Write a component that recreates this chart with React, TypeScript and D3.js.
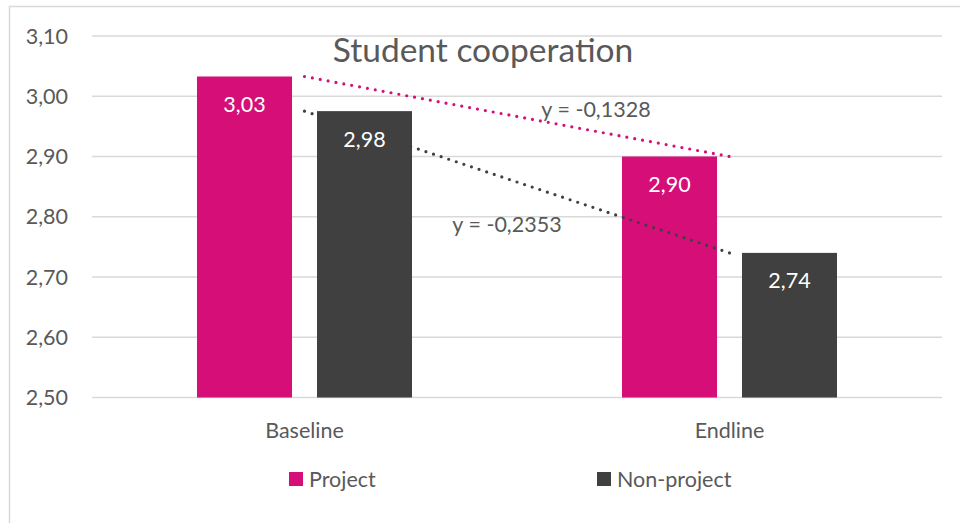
import React from 'react';
import * as d3 from 'd3';

// chart data
const categories = ['Baseline', 'Endline'];
const seriesNames = ['Project', 'Non-project'];
const projectValues = [3.0328, 2.9];
const nonProjectValues = [2.9753, 2.74];
const yTicks = [2.5, 2.6, 2.7, 2.8, 2.9, 3.0, 3.1];

const colors = ['#D50E78', '#404040'];
const textColor = '#595959';
const gridColor = '#D9D9D9';
const font = 'Lato, "Open Sans", sans-serif';
const fs = 21.5;

const fmt = (v: number, d: number) => v.toFixed(d).replace('.', ',');

export default function App() {
  const width = 960;
  const height = 523;
  const plotLeft = 92;
  const plotRight = 942;

  const y = d3.scaleLinear().domain([2.5, 3.1]).range([397.5, 36]);
  const x0 = d3.scaleBand<string>().domain(categories).range([plotLeft, plotRight]);
  const x1 = d3.scaleBand<string>().domain(seriesNames).range([0, 215]).paddingInner(0.2083);
  const groupOffset = (x0.bandwidth() - 215) / 2;

  const series = [projectValues, nonProjectValues];

  // linear trend through the category centres (x = 1, 2)
  const trend = series.map((vals) => {
    const xs = vals.map((_, i) => i + 1);
    const mx = d3.mean(xs)!;
    const my = d3.mean(vals)!;
    const slope = d3.sum(xs, (xv, i) => (xv - mx) * (vals[i] - my)) / d3.sum(xs, (xv) => (xv - mx) ** 2);
    const icpt = my - slope * mx;
    return { slope, icpt };
  });

  const line = d3.line<[number, number]>().x((d) => d[0]).y((d) => d[1]);

  const bars = (si: number) =>
    series[si].map((v, i) => {
      const bx = x0(categories[i])! + groupOffset + x1(seriesNames[si])!;
      return (
        <rect key={`b${si}-${i}`} x={bx} y={y(v)} width={x1.bandwidth()} height={y(2.5) - y(v)} fill={colors[si]} />
      );
    });

  const trendPaths = trend.map((t, si) => {
    const pts: [number, number][] = categories.map((c, i) => [
      x0(c)! + x0.bandwidth() / 2,
      y(t.icpt + t.slope * (i + 1)),
    ]);
    return (
      <path
        key={`t${si}`}
        d={line(pts)!}
        fill="none"
        stroke={colors[si]}
        strokeWidth={3.2}
        strokeLinecap="round"
        strokeDasharray="0 8"
      />
    );
  });

  const trendLabelPos = [
    { x: 596, y: 117 },
    { x: 507, y: 232 },
  ];

  return (
    <svg width={width} height={height} style={{ position: 'absolute', left: 0, top: 0, fontFamily: font }}>
      <rect x={0} y={0} width={width} height={height} fill="#fff" />
      <rect x={9.5} y={6.5} width={1000} height={1000} fill="none" stroke={gridColor} strokeWidth={1.5} />

      {yTicks.map((t) => (
        <g key={t}>
          <line x1={plotLeft} x2={plotRight} y1={y(t)} y2={y(t)} stroke={gridColor} strokeWidth={1.5} />
          <text x={68} y={y(t) + 7.5} textAnchor="end" fontSize={fs} fill={textColor}>
            {fmt(t, 2)}
          </text>
        </g>
      ))}

      <text x={483} y={62} textAnchor="middle" fontSize={33.5} fill={textColor}>
        Student cooperation
      </text>

      {bars(0)}
      {trendPaths}
      {bars(1)}

      {series.map((vals, si) =>
        vals.map((v, i) => {
          const bx = x0(categories[i])! + groupOffset + x1(seriesNames[si])! + x1.bandwidth() / 2;
          return (
            <text key={`l${si}-${i}`} x={bx} y={y(v) + 35.5} textAnchor="middle" fontSize={fs} fill="#fff">
              {fmt(v, 2)}
            </text>
          );
        })
      )}

      {trend.map((t, si) => (
        <text key={`tl${si}`} x={trendLabelPos[si].x} y={trendLabelPos[si].y} textAnchor="middle" fontSize={fs} fill={textColor}>
          {`y = ${fmt(t.slope, 4)}`}
        </text>
      ))}

      {categories.map((c) => (
        <text key={c} x={x0(c)! + x0.bandwidth() / 2} y={437.5} textAnchor="middle" fontSize={fs} fill={textColor}>
          {c}
        </text>
      ))}

      {seriesNames.map((s, si) => {
        const lx = [289, 597][si];
        return (
          <g key={s}>
            <rect x={lx} y={472} width={14} height={14} fill={colors[si]} />
            <text x={lx + 20} y={486.5} fontSize={fs} fill={textColor}>
              {s}
            </text>
          </g>
        );
      })}
    </svg>
  );
}
